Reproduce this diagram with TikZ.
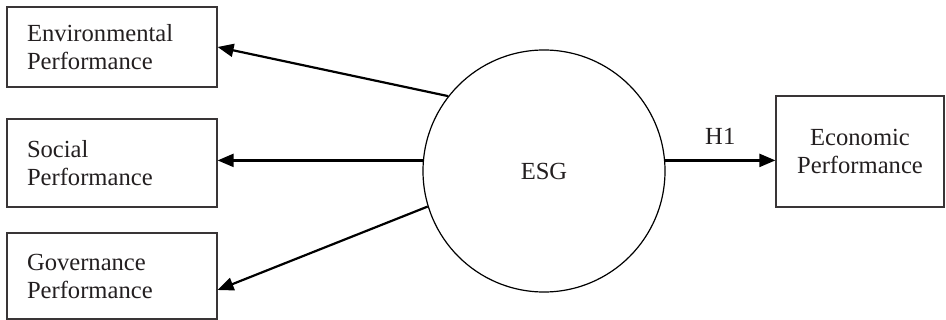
\documentclass[tikz,border=0pt]{standalone}
\usepackage{fontspec}
\setmainfont{Liberation Serif}
\usepackage{xcolor}
\usetikzlibrary{positioning, arrows.meta}
\definecolor{ink}{HTML}{231F20}
\begin{document}
\begin{tikzpicture}[x=0.5pt,y=-0.5pt]
						\tikzstyle{measure}=[draw=ink!90,line width=0.6pt,align=left,text width=85pt,inner xsep=10pt,minimum width=105pt,font=\fontsize{12.3}{14}\selectfont,text=ink]
						\tikzstyle{latent}=[circle,draw=black,line width=0.6pt,minimum size=121pt,font=\fontsize{12.3}{14}\selectfont,text=ink]
						\tikzstyle{path}=[line width=1.1pt,-{Triangle[length=8pt,width=6.5pt]}]
						\useasboundingbox (0,0) rectangle (946,320);
						\node[measure,minimum height=40pt](env) at (112,47) {Environmental\\Performance};
						\node[measure,minimum height=44pt](soc) at (112,163) {Social\\Performance};
						\node[measure,minimum height=43pt](gov) at (112,276) {Governance\\Performance};
						\node[latent](esg) at (544,171) {ESG};
						\node[measure,align=center,text width=70pt,inner xsep=0pt,minimum width=84pt,minimum height=55.5pt](eco) at (860,151.5) {Economic\\Performance};
						\draw[path](esg.142) -- (env.east);
						\draw[path](esg.175) -- (esg.175 -| soc.east);
						\draw[path](esg.197) -- ([yshift=-7pt]gov.east);
						\draw[path](esg.5) -- node[above=4pt,font=\fontsize{12.3}{14}\selectfont,text=ink]{H1} (esg.5 -| eco.west);
					\end{tikzpicture}
\end{document}
